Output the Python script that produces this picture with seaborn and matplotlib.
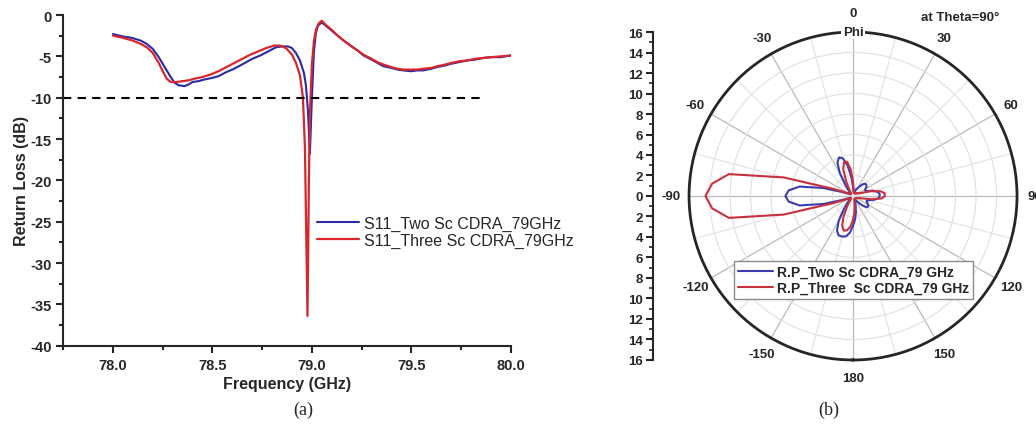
import numpy as np
import pandas as pd
import seaborn as sns
from matplotlib import pyplot as plt
from matplotlib.ticker import MultipleLocator, FuncFormatter

# (a) return loss
freq_two = [78.00, 78.05, 78.08, 78.10, 78.14, 78.17, 78.20, 78.23, 78.26, 78.29,
            78.31, 78.33, 78.36, 78.38, 78.40, 78.43, 78.46, 78.50, 78.53, 78.57,
            78.60, 78.64, 78.67, 78.70, 78.74, 78.78, 78.82, 78.85, 78.88, 78.90,
            78.92, 78.94, 78.96, 78.97, 78.98, 78.99, 79.00, 79.01, 79.02, 79.03,
            79.05, 79.07, 79.10, 79.13, 79.16, 79.20, 79.23, 79.26, 79.30, 79.33,
            79.36, 79.40, 79.43, 79.46, 79.50, 79.53, 79.56, 79.60, 79.63, 79.67,
            79.70, 79.74, 79.78, 79.82, 79.86, 79.90, 79.95, 80.00]
loss_two = [-2.3, -2.6, -2.7, -2.8, -3.1, -3.5, -4.1, -5.1, -6.3, -7.5,
            -8.2, -8.5, -8.6, -8.4, -8.1, -8.0, -7.8, -7.6, -7.4, -6.9,
            -6.6, -6.1, -5.7, -5.3, -4.9, -4.4, -3.9, -3.8, -3.8, -4.0,
            -4.6, -5.5, -7.0, -8.5, -11.5, -16.8, -10.0, -4.5, -2.2, -1.3,
            -0.9, -1.3, -1.9, -2.5, -3.1, -3.8, -4.3, -4.9, -5.4, -5.8,
            -6.2, -6.4, -6.6, -6.7, -6.8, -6.7, -6.7, -6.5, -6.3, -6.1,
            -5.9, -5.7, -5.5, -5.4, -5.2, -5.1, -5.1, -4.9]

freq_three = [78.00, 78.04, 78.07, 78.10, 78.14, 78.17, 78.20, 78.23, 78.25, 78.27,
              78.29, 78.32, 78.35, 78.38, 78.41, 78.45, 78.49, 78.53, 78.57, 78.61,
              78.65, 78.69, 78.73, 78.77, 78.81, 78.84, 78.87, 78.90, 78.92, 78.94,
              78.955, 78.965, 78.978, 78.985, 78.99, 79.00, 79.01, 79.02, 79.035, 79.05,
              79.07, 79.10, 79.13, 79.16, 79.20, 79.23, 79.26, 79.30, 79.33, 79.36,
              79.40, 79.43, 79.46, 79.50, 79.53, 79.56, 79.60, 79.63, 79.67, 79.70,
              79.74, 79.78, 79.82, 79.86, 79.90, 79.95, 80.00]
loss_three = [-2.5, -2.7, -2.9, -3.1, -3.5, -3.9, -4.6, -5.8, -6.8, -7.7,
              -8.1, -8.1, -8.0, -7.9, -7.7, -7.5, -7.2, -6.8, -6.3, -5.8,
              -5.3, -4.8, -4.4, -4.0, -3.7, -3.7, -4.0, -4.8, -5.8, -7.3,
              -10.0, -16.0, -36.4, -20.0, -12.0, -6.0, -3.2, -1.8, -1.0, -0.7,
              -1.2, -1.8, -2.5, -3.1, -3.8, -4.3, -4.8, -5.3, -5.7, -6.0,
              -6.3, -6.5, -6.6, -6.6, -6.6, -6.5, -6.4, -6.2, -6.0, -5.8,
              -5.6, -5.5, -5.3, -5.2, -5.1, -5.0, -4.9]

threshold = -10
threshold_end = 79.85

# (b) radiation pattern at Theta=90
phi_deg = list(range(-180, 185, 5))
rp_two = [2.9, 3.6, 4.0, 4.1, 4.1, 3.7, 2.8, 1.6, 0.8, 0.4,
          0.3, 0.3, 0.4, 0.6, 1.2, 3.0, 5.3, 6.3, 6.6, 6.3,
          5.3, 3.0, 1.2, 0.6, 0.4, 0.3, 0.3, 0.4, 0.6, 1.3,
          2.6, 3.6, 4.0, 3.8, 3.0, 1.8, 0.9, 0.5, 0.4, 0.4,
          0.5, 0.7, 0.9, 1.2, 1.5, 1.7, 1.7, 1.6, 1.4, 1.3,
          1.4, 2.0, 2.4, 2.6, 2.6, 2.5, 2.1, 1.6, 1.4, 1.5,
          1.7, 1.8, 1.7, 1.3, 0.9, 0.6, 0.4, 0.4, 0.6, 1.0,
          1.6, 2.3, 2.9]
rp_three = [2.3, 3.0, 3.4, 3.5, 3.1, 2.2, 1.1, 0.5, 0.3, 0.3,
            0.3, 0.3, 0.4, 0.8, 2.0, 7.0, 12.3, 13.8, 14.4, 13.8,
            12.3, 7.0, 2.0, 0.8, 0.4, 0.3, 0.3, 0.3, 0.3, 0.4,
            0.8, 1.6, 2.8, 3.4, 3.4, 2.6, 1.4, 0.6, 0.3, 0.3,
            0.3, 0.3, 0.3, 0.3, 0.3, 0.4, 0.4, 0.5, 0.5, 0.6,
            0.9, 1.8, 2.7, 3.1, 3.1, 2.8, 1.8, 0.9, 0.6, 0.5,
            0.4, 0.4, 0.3, 0.3, 0.3, 0.3, 0.3, 0.3, 0.4, 0.6,
            1.0, 1.6, 2.3]

theta_ticks = [0, 30, 60, 90, 120, 150, 180, -150, -120, -90, -60, -30]

BLUE = '#2a2aa6'
RED = '#d8262b'
PBLUE = '#3c3cb4'
PRED = '#c8303c'

sns.set_style('ticks')
plt.rcParams['font.family'] = ['Liberation Sans', 'DejaVu Sans']
plt.rcParams['axes.unicode_minus'] = False

fig = plt.figure(figsize=(10.36, 4.27), dpi=100)

# ---- (a) return loss
ax = fig.add_axes([0.0611, 0.188, 0.4319, 0.7745])
sns.lineplot(x=freq_two, y=loss_two, ax=ax, color=BLUE, lw=1.5,
             estimator=None, sort=False, label='S11_Two Sc CDRA_79GHz')
sns.lineplot(x=freq_three, y=loss_three, ax=ax, color=RED, lw=1.6,
             estimator=None, sort=False, label='S11_Three Sc CDRA_79GHz')
ax.set_xlim(77.75, 80.0)
ax.set_ylim(-40, 0)
ax.hlines(threshold, 77.75, threshold_end, colors='black', lw=1.5,
          linestyles=(0, (4, 3)))
sns.despine(ax=ax)
for s in ['left', 'bottom']:
    ax.spines[s].set_linewidth(1.5)
ax.xaxis.set_major_locator(MultipleLocator(0.5))
ax.xaxis.set_minor_locator(MultipleLocator(0.25))
ax.yaxis.set_major_locator(MultipleLocator(5))
ax.yaxis.set_minor_locator(MultipleLocator(2.5))
ax.xaxis.set_major_formatter(FuncFormatter(lambda v, p: f'{v:.1f}'))
ax.tick_params(which='major', length=5, width=1.5, direction='out', labelsize=10.5)
ax.tick_params(which='minor', length=3, width=1.5, direction='out')
for t in ax.get_xticklabels() + ax.get_yticklabels():
    t.set_fontweight('bold')
ax.set_xlabel('Frequency (GHz)', fontsize=11.5, fontweight='bold', labelpad=3)
ax.set_ylabel('Return Loss (dB)', fontsize=11.5, fontweight='bold', labelpad=1)
ax.legend(loc='upper left', bbox_to_anchor=(303 / 1036, 1 - 202 / 427),
          bbox_transform=fig.transFigure, frameon=False, fontsize=11.5,
          handlelength=2.6, handletextpad=0.3, labelspacing=0.15)

# ---- (b) polar radiation pattern
pax = fig.add_axes([0.6651, 0.1546, 0.3166, 0.7681], projection='polar')
pax.set_theta_zero_location('N')
pax.set_theta_direction(-1)
sns.lineplot(x=np.radians(phi_deg), y=rp_two, ax=pax, color=PBLUE, lw=1.5,
             estimator=None, sort=False, label='R.P_Two Sc CDRA_79 GHz')
sns.lineplot(x=np.radians(phi_deg), y=rp_three, ax=pax, color=PRED, lw=1.5,
             estimator=None, sort=False, label='R.P_Three  Sc CDRA_79 GHz')
pax.set_thetalim(-np.pi, np.pi)
pax.set_ylim(0, 16)
pax.set_yticks(range(2, 17, 2))
pax.set_yticklabels([])
pax.set_xlabel('')
pax.set_ylabel('')
pax.set_xticks(np.radians(theta_ticks))
pax.set_xticklabels([''] + [str(t) for t in theta_ticks[1:]],
                    fontweight='bold', fontsize=9.5)
pax.set_xticks(np.radians([15, 45, 75, 105, 135, 165, -165, -135, -105, -75, -45, -15]),
               minor=True)
pax.xaxis.grid(True, which='major', color='#b9b9b9', lw=0.9)
pax.xaxis.grid(True, which='minor', color='#e2e2e2', lw=0.8)
pax.yaxis.grid(True, color='#e0e0e0', lw=0.8)
pax.tick_params(axis='x', which='major', direction='in', length=7, width=1.5, pad=6)
pax.tick_params(axis='x', which='minor', direction='in', length=4, width=1.2)
pax.spines['polar'].set_linewidth(2)
pax.text(0, 16, 'Phi', ha='center', va='center', fontsize=9.5, fontweight='bold',
         bbox=dict(facecolor='white', edgecolor='none', pad=1), clip_on=False, zorder=10)
pax.text(0, 17.9, '0', ha='center', va='center', fontsize=9.5, fontweight='bold',
         clip_on=False)
pax.legend(loc='upper left', bbox_to_anchor=(734 / 1036, 1 - 262 / 427),
           bbox_transform=fig.transFigure, borderaxespad=0, frameon=True, fancybox=False,
           edgecolor='#8a8a8a', framealpha=1, prop={'weight': 'bold', 'size': 10},
           borderpad=0.3, handlelength=2.5, handletextpad=0.3, labelspacing=0.1)

# radial scale drawn beside the polar plot
rax = fig.add_axes([653 / 1036, 0.1546, 0.0005, 0.7681])
rax.set_ylim(-16, 16)
rax.patch.set_visible(False)
for s in ['top', 'right', 'bottom']:
    rax.spines[s].set_visible(False)
rax.spines['left'].set_linewidth(1.5)
rax.set_xticks([])
rax.yaxis.set_major_locator(MultipleLocator(2))
rax.yaxis.set_minor_locator(MultipleLocator(1))
rax.yaxis.set_major_formatter(FuncFormatter(lambda v, p: f'{abs(v):.0f}'))
rax.tick_params(axis='y', which='major', length=5, width=1.5, labelsize=9.5, pad=2)
rax.tick_params(axis='y', which='minor', length=3, width=1.2)
for t in rax.get_yticklabels():
    t.set_fontweight('bold')

fig.text(960 / 1036, 1 - 18 / 427, 'at Theta=90°', ha='center', va='center',
         fontsize=9.5, fontweight='bold')
fig.text(303 / 1036, 1 - 410 / 427, '(a)', ha='center', va='center',
         fontsize=13, family='Liberation Serif')
fig.text(829 / 1036, 1 - 410 / 427, '(b)', ha='center', va='center',
         fontsize=13, family='Liberation Serif')

fig.savefig('out.png', dpi=100)
